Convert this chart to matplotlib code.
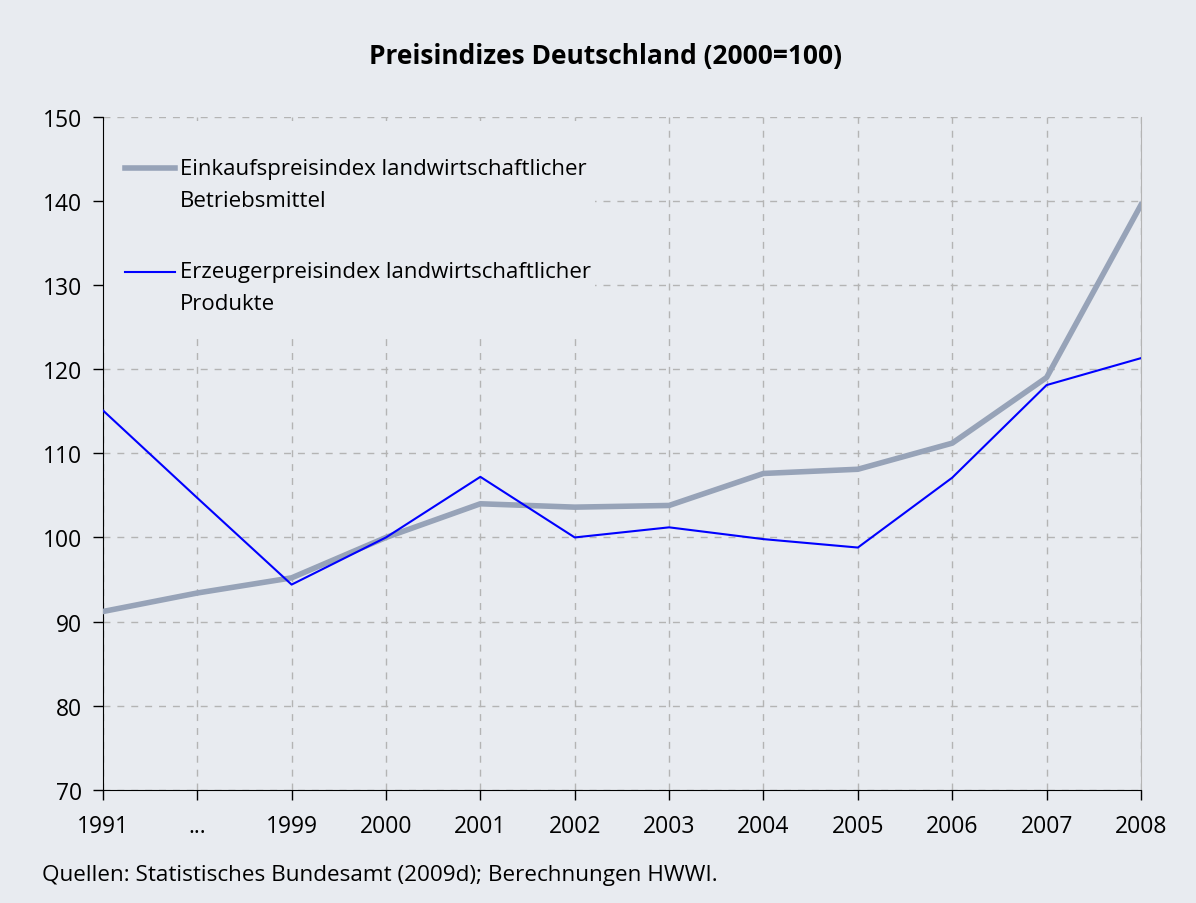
import matplotlib.pyplot as plt
from matplotlib.patches import Rectangle

# Data
years = ['1991', '...', '1999', '2000', '2001', '2002', '2003', '2004', '2005', '2006', '2007', '2008']
einkauf = [91.2, 93.4, 95.2, 100.0, 104.0, 103.6, 103.8, 107.6, 108.1, 111.2, 119.0, 139.5]
erzeuger = [115.1, 104.7, 94.4, 100.0, 107.2, 100.0, 101.2, 99.8, 98.8, 107.1, 118.1, 121.3]
y_ticks = [70, 80, 90, 100, 110, 120, 130, 140, 150]

bg = '#e8ebf0'
plt.rcParams['font.family'] = ['Open Sans', 'DejaVu Sans']

fig = plt.figure(figsize=(11.96, 9.04), dpi=100, facecolor=bg)
ax = fig.add_axes([0.086, 0.125, 0.868, 0.745], facecolor=bg)

x = list(range(len(years)))
ax.plot(x, einkauf, color='#97a3b8', lw=4, label='Einkaufspreisindex landwirtschaftlicher\nBetriebsmittel', zorder=3)
ax.plot(x, erzeuger, color='#0000ff', lw=1.5, label='Erzeugerpreisindex landwirtschaftlicher\nProdukte', zorder=3)

ax.set_xlim(0, len(years) - 1)
ax.set_ylim(70, 150)
ax.set_xticks(x)
ax.set_xticklabels(years)
ax.set_yticks(y_ticks)
ax.tick_params(axis='both', labelsize=16.5, length=7, color='black', width=1)
ax.tick_params(axis='x', pad=10)
ax.tick_params(axis='y', pad=8)
ax.grid(True, color='#b4b4b4', ls=(0, (5, 5)), lw=1)
ax.set_axisbelow(True)

ax.spines['top'].set_visible(False)
ax.spines['right'].set_color('#b4b4b4')
ax.spines['left'].set_color('black')
ax.spines['bottom'].set_color('black')

# background patch behind the legend hides the grid there
ax.add_patch(Rectangle((0.0, 0.673), 0.474, 0.321, transform=ax.transAxes,
                       facecolor=bg, edgecolor='none', zorder=2))

leg = ax.legend(loc='upper left', bbox_to_anchor=(0.0212, 0.939), fontsize=16, frameon=False,
                labelspacing=2.25, handlelength=2.25, handletextpad=0.23,
                borderpad=0, borderaxespad=0)
for t in leg.get_texts():
    t.set_linespacing(1.7)
# put the handle level with the first text line
for h in leg.legend_handles:
    yd = h.get_ydata()
    h.set_ydata([v + 11.5 for v in yd])
leg.set_zorder(4)

fig.text(0.506, 0.937, 'Preisindizes Deutschland (2000=100)', ha='center', va='center',
         fontsize=19, fontweight='bold')
fig.text(0.035, 0.032, 'Quellen: Statistisches Bundesamt (2009d); Berechnungen HWWI.',
         ha='left', va='center', fontsize=16.2)

fig.savefig('out.png', dpi=100, facecolor=bg)
